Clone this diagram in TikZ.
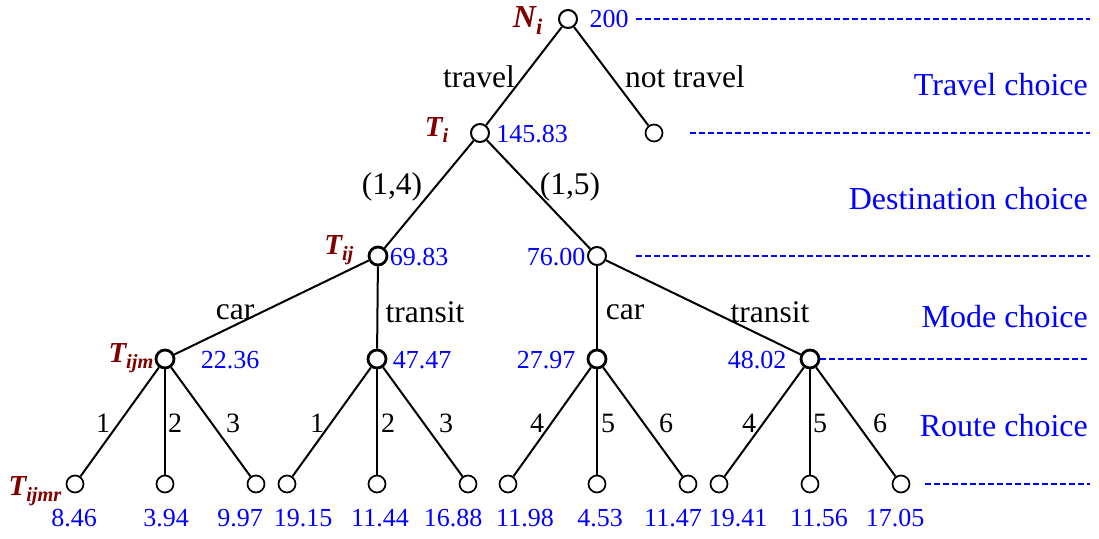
\documentclass[tikz,border=0pt]{standalone}
\usepackage{fontspec}
\setmainfont{Liberation Serif}
\definecolor{tred}{RGB}{128,0,0}
\definecolor{tblue}{RGB}{0,0,255}
\tikzset{
  nd/.style={circle,draw,line width=2pt,minimum size=18pt,inner sep=0pt},
  ndb/.style={circle,draw,line width=2.8pt,minimum size=18pt,inner sep=0pt},
  leaf/.style={circle,draw,line width=1.7pt,minimum size=17pt,inner sep=0pt},
  edge/.style={line width=2pt},
  num/.style={text=tblue,font=\fontsize{26}{26}\selectfont,inner sep=0pt},
  lnum/.style={text=tblue,font=\fontsize{26}{26}\selectfont,inner sep=0pt},
  lab/.style={font=\fontsize{31.5}{31.5}\selectfont,inner sep=0pt},
  rlab/.style={font=\fontsize{28}{28}\selectfont,inner sep=0pt},
  tl/.style={text=tred,font=\fontsize{#1}{#1}\selectfont\bfseries\itshape,inner sep=0pt},
  side/.style={text=tblue,font=\fontsize{32}{32}\selectfont,inner sep=0pt,anchor=base east},
  guide/.style={tblue,line width=1.1pt,dash pattern=on 5.5pt off 3.5pt}
}
\begin{document}
\begin{tikzpicture}[x=1pt,y=-1pt]
\useasboundingbox (0,0) rectangle (1099,538);
% nodes
\node[nd] (r) at (568,19) {};
\node[leaf] (nt) at (654,133) {};
\node[nd] (ti) at (480,133) {};
\node[ndb] (tij) at (378,256) {};
\node[nd] (tij2) at (597,256) {};
\node[ndb] (m1) at (165,359) {};
\node[ndb] (m2) at (377,359) {};
\node[ndb] (m3) at (597,359) {};
\node[ndb] (m4) at (810,359) {};
\foreach \n/\x in {a/75,b/165,c/256,d/287,e/377,f/468,g/508,h/597,i/688,j/719,k/810,l/901}
  \node[leaf] (l\n) at (\x,484) {};
% edges
\draw[edge] (r) -- (ti);
\draw[edge] (r) -- (nt);
\draw[edge] (ti) -- (tij);
\draw[edge] (ti) -- (tij2);
\draw[edge] (tij) -- (m1);
\draw[edge] (tij) -- (m2);
\draw[edge] (tij2) -- (m3);
\draw[edge] (tij2) -- (m4);
\draw[edge] (m1) -- (la); \draw[edge] (m1) -- (lb); \draw[edge] (m1) -- (lc);
\draw[edge] (m2) -- (ld); \draw[edge] (m2) -- (le); \draw[edge] (m2) -- (lf);
\draw[edge] (m3) -- (lg); \draw[edge] (m3) -- (lh); \draw[edge] (m3) -- (li);
\draw[edge] (m4) -- (lj); \draw[edge] (m4) -- (lk); \draw[edge] (m4) -- (ll);
% variable labels
\node[tl=32,anchor=east] (Ni) at (543,21) {N\textsubscript{i}};
\node[tl=29,anchor=east] (Ti) at (449,130) {T\textsubscript{i}};
\node[tl=29,anchor=east] (Tij) at (354,250) {T\textsubscript{ij}};
\node[tl=29,anchor=east] (Tijm) at (154,358) {T\textsubscript{ijm}};
\node[tl=29,anchor=east] (Tijmr) at (62,491) {T\textsubscript{ijmr}};
% numbers
\node[num] (v0) at (609,19) {200};
\node[num] (v1) at (532,134) {145.83};
\node[num] (v2) at (419,257) {69.83};
\node[num] (v3) at (556,257) {76.00};
\node[num] (v4) at (230,360) {22.36};
\node[num] (v5) at (422,360) {47.47};
\node[num] (v6) at (546,360) {27.97};
\node[num] (v7) at (757,360) {48.02};
\foreach \n/\x/\t in {a/74/8.46,b/166/3.94,c/240/9.97,d/303/19.15,e/380/11.44,f/453/16.88,g/525/11.98,h/600/4.53,i/673/11.47,j/738/19.41,k/819/11.56,l/895/17.05}
  \node[lnum] (n\n) at (\x,518) {\t};
% branch labels
\node[lab] (b1) at (479,77) {travel};
\node[lab] (b2) at (685,77) {not travel};
\node[lab] (b3) at (392,187) {(1,4)};
\node[lab] (b4) at (570,187) {(1,5)};
\node[lab] (b5) at (235,312) {car};
\node[lab] (b6) at (425,312) {transit};
\node[lab] (b7) at (625,312) {car};
\node[lab] (b8) at (770,312) {transit};
\foreach \n/\x/\t in {1/103/1,2/175/2,3/233/3,4/317/1,5/388/2,6/446/3,7/537/4,8/608/5,9/666/6,10/749/4,11/820/5,12/880/6}
  \node[rlab] (rl\n) at (\x,423) {\t};
% side labels
\node[side] (s1) at (1088,95) {Travel choice};
\node[side] (s2) at (1088,209) {Destination choice};
\node[side] (s3) at (1088,327) {Mode choice};
\node[side] (s4) at (1088,436) {Route choice};
% guide lines
\coordinate (g0a) at (636,19); \coordinate (g0b) at (1090,19);
\coordinate (g1a) at (690,133); \coordinate (g1b) at (1090,133);
\coordinate (g2a) at (636,256); \coordinate (g2b) at (1090,256);
\coordinate (g3b) at (1090,359);
\coordinate (g4a) at (925,484); \coordinate (g4b) at (1090,484);
\draw[guide] (g0a) -- (g0b);
\draw[guide] (g1a) -- (g1b);
\draw[guide] (g2a) -- (g2b);
\draw[guide] (m4.east) -- (g3b);
\draw[guide] (g4a) -- (g4b);
\end{tikzpicture}
\end{document}
